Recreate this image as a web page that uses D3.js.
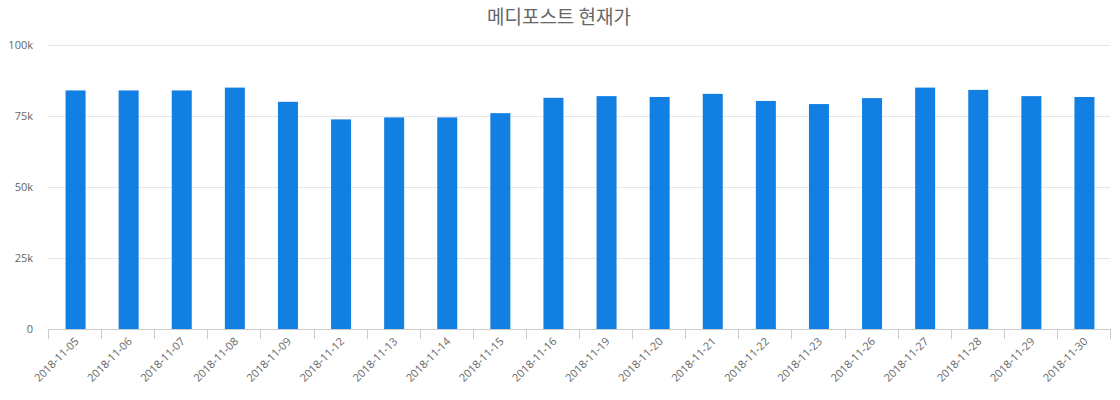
<!DOCTYPE html>
<html>
<head>
<meta charset="utf-8">
<script src="https://cdn.jsdelivr.net/npm/d3@7"></script>
<style>
  body { margin: 0; background: #fff; }
  text { font-family: "Open Sans", "Noto Sans CJK KR", sans-serif; }
</style>
</head>
<body>
<div id="chart"></div>
<script>
var titleText = "메디포스트 현재가";
var dates = ["2018-11-05","2018-11-06","2018-11-07","2018-11-08","2018-11-09",
             "2018-11-12","2018-11-13","2018-11-14","2018-11-15","2018-11-16",
             "2018-11-19","2018-11-20","2018-11-21","2018-11-22","2018-11-23",
             "2018-11-26","2018-11-27","2018-11-28","2018-11-29","2018-11-30"];
var prices = [84000, 84000, 84000, 85000, 80000,
              73800, 74500, 74500, 76000, 81400,
              82000, 81700, 82800, 80300, 79200,
              81300, 85000, 84200, 82000, 81700];
var yTicks = [0, 25000, 50000, 75000, 100000];
var yTickLabels = ["0", "25k", "50k", "75k", "100k"];

function init() {
    var w = 1120;
    var h = 400;
    var left = 48, right = 1110, top = 45, bottom = 329;

    var svg = d3.select("#chart")
                .append("svg")
                .attr("width", w)
                .attr("height", h);

    var x = d3.scaleBand()
              .domain(dates)
              .range([left, right]);

    var y = d3.scaleLinear()
              .domain([0, 100000])
              .range([bottom, top]);

    //title
    svg.append("text")
       .attr("x", 559)
       .attr("y", 24)
       .attr("text-anchor", "middle")
       .style("font-family", "'Noto Sans CJK KR', sans-serif")
       .style("font-size", "19px")
       .style("fill", "#666")
       .text(titleText);

    //grid lines
    svg.selectAll("line.grid")
       .data(yTicks.slice(1))
       .enter()
       .append("line")
       .attr("class", "grid")
       .attr("x1", left)
       .attr("x2", right)
       .attr("y1", function(d){ return Math.round(y(d)) + 0.5; })
       .attr("y2", function(d){ return Math.round(y(d)) + 0.5; })
       .style("stroke", "#e6e6e6");

    //y labels
    svg.selectAll("text.ylab")
       .data(yTicks)
       .enter()
       .append("text")
       .attr("class", "ylab")
       .attr("x", 33)
       .attr("y", function(d){ return y(d) + 4; })
       .attr("text-anchor", "end")
       .style("font-size", "11px")
       .style("fill", "#666")
       .text(function(d, i){ return yTickLabels[i]; });

    //bars
    var bw = 20;
    svg.selectAll("rect.bar")
       .data(prices)
       .enter()
       .append("rect")
       .attr("class", "bar")
       .attr("x", function(d, i){ return x(dates[i]) + x.bandwidth() / 2 - bw / 2 + 1; })
       .attr("y", function(d){ return y(d); })
       .attr("width", bw)
       .attr("height", function(d){ return bottom - y(d); })
       .style("fill", "#127fe2");

    //x axis line and ticks
    svg.append("line")
       .attr("x1", left)
       .attr("x2", right)
       .attr("y1", bottom + 0.5)
       .attr("y2", bottom + 0.5)
       .style("stroke", "#ccc");

    var tickPos = dates.map(function(d){ return x(d); }).concat([right]);
    svg.selectAll("line.tick")
       .data(tickPos)
       .enter()
       .append("line")
       .attr("class", "tick")
       .attr("x1", function(d){ return Math.round(d) + 0.5; })
       .attr("x2", function(d){ return Math.round(d) + 0.5; })
       .attr("y1", bottom)
       .attr("y2", bottom + 10)
       .style("stroke", "#ccc");

    //x labels
    svg.selectAll("text.xlab")
       .data(dates)
       .enter()
       .append("text")
       .attr("class", "xlab")
       .attr("text-anchor", "end")
       .attr("transform", function(d){
           return "translate(" + (x(d) + x.bandwidth() / 2 + 5) + "," + (bottom + 13) + ") rotate(-45)";
       })
       .style("font-size", "11px")
       .style("fill", "#666")
       .text(function(d){ return d; });
}

window.onload = init;
</script>
</body>
</html>
